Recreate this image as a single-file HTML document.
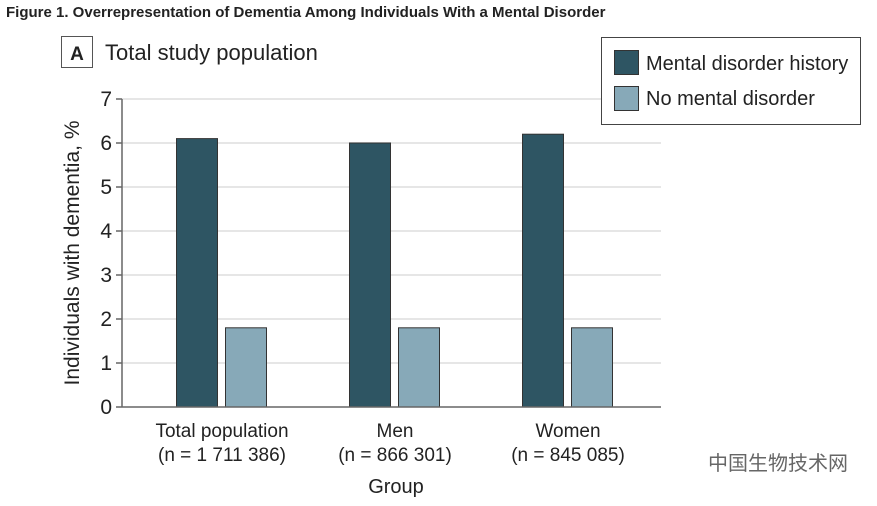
<!DOCTYPE html>
<html><head><meta charset="utf-8"><style>
body{margin:0;background:#fff;width:877px;height:501px;overflow:hidden;font-family:"Liberation Sans","Noto Sans CJK SC",sans-serif;}
</style></head><body>
<svg width="877" height="501" xmlns="http://www.w3.org/2000/svg" font-family="Liberation Sans, Noto Sans CJK SC, sans-serif">
<text x="6" y="17" font-size="15" font-weight="bold" fill="#222">Figure 1.  Overrepresentation of Dementia Among Individuals With a Mental Disorder</text>
<rect x="61.5" y="36.5" width="31" height="31" fill="none" stroke="#555"/>
<text x="77" y="60" font-size="19" font-weight="bold" text-anchor="middle" fill="#222">A</text>
<text x="105" y="60" font-size="22" fill="#222">Total study population</text>
<g id="grid"></g><g id="bars"></g><g id="axes"></g>
<rect x="601.5" y="37.5" width="259" height="87" fill="#fff" stroke="#444"/>
<rect x="614.5" y="50.5" width="24" height="24" fill="#2e5563" stroke="#333"/>
<text x="646" y="70" font-size="20" fill="#222">Mental disorder history</text>
<rect x="614.5" y="86.5" width="24" height="24" fill="#87a9b8" stroke="#333"/>
<text x="646" y="105" font-size="20" fill="#222">No mental disorder</text>
<text transform="translate(79,253) rotate(-90)" font-size="21" text-anchor="middle" fill="#222">Individuals with dementia, %</text>
<text x="396" y="493" font-size="20" text-anchor="middle" fill="#222">Group</text>
<text x="848" y="470" font-size="20" text-anchor="end" fill="#666">中国生物技术网</text>
</svg>
<script>
const categories=["Total population","Men","Women"];
const nLabels=["(n = 1 711 386)","(n = 866 301)","(n = 845 085)"];
const mentalValues=[6.1,6.0,6.2];
const noneValues=[1.8,1.8,1.8];
const yTicks=[0,1,2,3,4,5,6,7];
const NS="http://www.w3.org/2000/svg";
const y0=407,y7=99,xL=122,xR=661;
function y(v){return y0-(v/7)*(y0-y7);}
function xc(i){return 222+i*173;}
function mk(t,a,p){const e=document.createElementNS(NS,t);for(const k in a)e.setAttribute(k,a[k]);p.appendChild(e);return e;}
const grid=document.getElementById('grid'),bars=document.getElementById('bars'),axes=document.getElementById('axes');
yTicks.forEach(t=>{
 if(t>0){const g=mk('line',{x1:xL,x2:xR,y1:y(t),y2:y(t),stroke:'#ddd','stroke-width':1.5},grid);
 
 }
 const tk=mk('line',{x1:xL-6,x2:xL,y1:y(t),y2:y(t),stroke:'#666','stroke-width':1.5},axes);
 
 
 const l=mk('text',{x:xL-10,y:y(t)+7,'font-size':21,'text-anchor':'end',fill:'#222'},axes);l.textContent=t;
 
 
});
const ax=mk('line',{x1:xL,x2:xL,y1:y7,y2:y0,stroke:'#666','stroke-width':1.5},axes);


const bx=mk('line',{x1:xL,x2:xR,y1:y0,y2:y0,stroke:'#666','stroke-width':1.5},axes);


categories.forEach((c,i)=>{
 const m=mk('rect',{x:xc(i)-45.5,y:y(mentalValues[i]),width:41,height:y0-y(mentalValues[i]),fill:'#2e5563',stroke:'#333'},bars);
 
 
 const n=mk('rect',{x:xc(i)+3.5,y:y(noneValues[i]),width:41,height:y0-y(noneValues[i]),fill:'#87a9b8',stroke:'#333'},bars);
 
 
 const t1=mk('text',{x:xc(i),y:437,'font-size':19,'text-anchor':'middle',fill:'#222'},axes);t1.textContent=c;
 
 
 const t2=mk('text',{x:xc(i),y:461,'font-size':19,'text-anchor':'middle',fill:'#222'},axes);t2.textContent=nLabels[i];
 
 
});
</script>
</body></html>
